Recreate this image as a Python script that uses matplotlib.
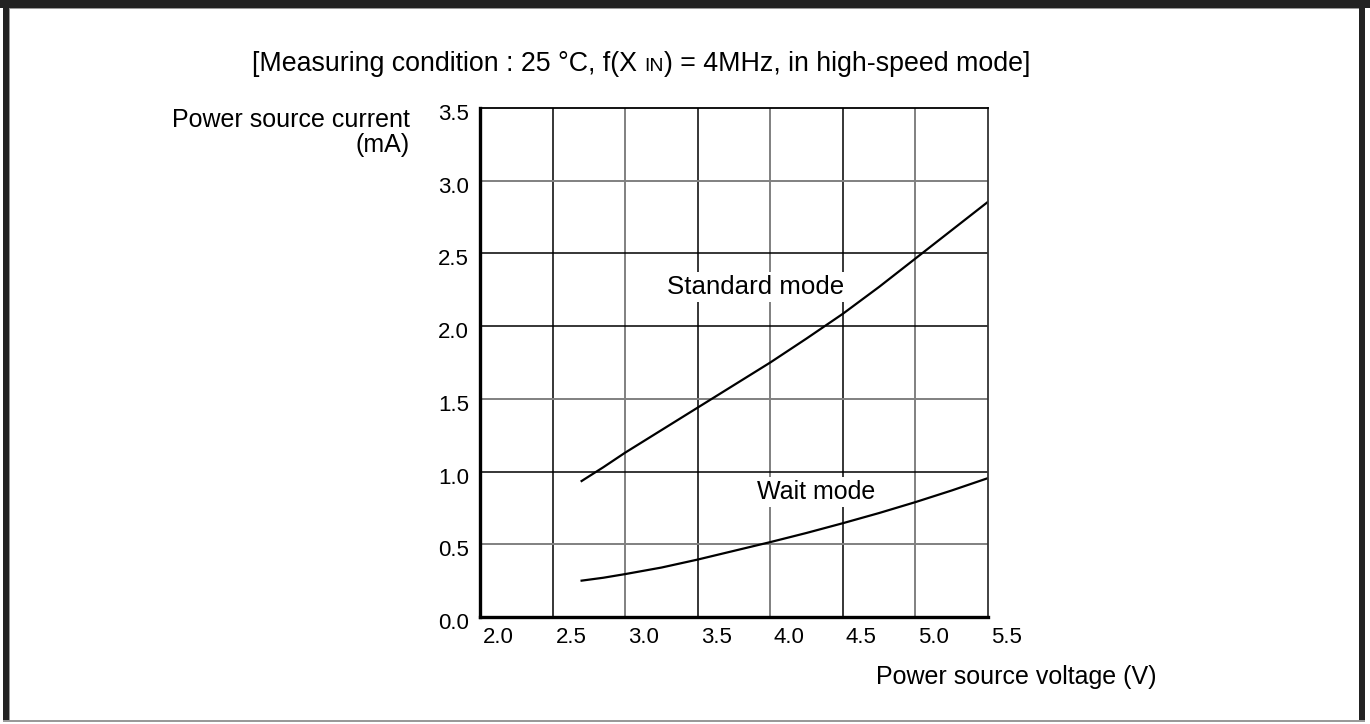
import matplotlib
matplotlib.use("Agg")
import matplotlib.pyplot as plt
from matplotlib.patches import Rectangle
import matplotlib.transforms as mtransforms

plt.rcParams['font.family'] = ['Liberation Sans', 'DejaVu Sans']

# ---- data ----
std_v = [2.7, 2.85, 3.0, 3.25, 3.5, 3.75, 4.0, 4.25, 4.5, 4.75, 5.0, 5.25, 5.5]
std_i = [0.935, 1.03, 1.13, 1.285, 1.44, 1.595, 1.75, 1.915, 2.085, 2.27, 2.465, 2.66, 2.855]
wait_v = [2.7, 2.85, 3.0, 3.25, 3.5, 3.75, 4.0, 4.25, 4.5, 4.75, 5.0, 5.25, 5.5]
wait_i = [0.25, 0.27, 0.295, 0.34, 0.395, 0.455, 0.515, 0.578, 0.645, 0.715, 0.79, 0.87, 0.955]
x_ticks = [2.0, 2.5, 3.0, 3.5, 4.0, 4.5, 5.0, 5.5]
y_ticks = [0.0, 0.5, 1.0, 1.5, 2.0, 2.5, 3.0, 3.5]
x_tick_labels = ["2.0", "2.5", "3.0", "3.5", "4.0", "4.5", "5.0", "5.5"]
y_tick_labels = ["0.0", "0.5", "1.0", "1.5", "2.0", "2.5", "3.0", "3.5"]
x_grid_black = [2.5, 3.5, 4.5]
x_grid_gray = [3.0, 4.0, 5.0]
y_grid_black = [1.0, 2.0, 2.5]
y_grid_gray = [0.5, 1.5, 3.0]

W, H = 1370, 724
fig = plt.figure(figsize=(W / 100, H / 100), dpi=100)

# frame border
def px_rect(x0, y0, x1, y1, color):
    fig.patches.append(Rectangle((x0 / W, 1 - y1 / H), (x1 - x0) / W, (y1 - y0) / H,
                                 transform=fig.transFigure, facecolor=color,
                                 edgecolor='none', zorder=0))
px_rect(0, 0, W, 8, '#222222')
px_rect(8, 8, W - 8, 9, '#999999')
px_rect(3, 0, 9, H - 3, '#222222')
px_rect(9, 8, 10, H - 3, '#999999')
px_rect(1359, 0, 1365, H - 3, '#222222')
px_rect(3, H - 4, 1365, H - 2, '#999999')

ax = fig.add_axes([480 / W, 1 - 617 / H, (988 - 480) / W, (617 - 108) / H])
ax.set_xlim(2.0, 5.5)
ax.set_ylim(0.0, 3.5)

gray = '#808080'
for xv in x_grid_black:
    ax.axvline(xv, color='black', lw=1.1, zorder=1)
for xv in x_grid_gray:
    ax.axvline(xv, color=gray, lw=1.4, zorder=1)
for yv in y_grid_black:
    ax.axhline(yv, color='black', lw=1.1, zorder=1)
for yv in y_grid_gray:
    ax.axhline(yv, color=gray, lw=1.4, zorder=1)

ax.plot(std_v, std_i, color='black', lw=1.6, zorder=3, solid_joinstyle='round')
ax.plot(wait_v, wait_i, color='black', lw=1.6, zorder=3, solid_joinstyle='round')

box = dict(facecolor='white', edgecolor='none', pad=2)
ax.text(3.29, 2.27, "Standard mode", fontsize=18.6, ha='left', va='center',
        bbox=box, zorder=2)
ax.text(3.91, 0.86, "Wait mode", fontsize=18, ha='left', va='center',
        bbox=box, zorder=2)

for s in ['left', 'bottom']:
    ax.spines[s].set_linewidth(2.4)
    ax.spines[s].set_color('black')
ax.spines['top'].set_linewidth(1.3)
ax.spines['top'].set_color('black')
ax.spines['right'].set_linewidth(1.3)
ax.spines['right'].set_color('#333333')
for s in ax.spines.values():
    s.set_zorder(4)

ax.set_xticks(x_ticks)
ax.set_xticklabels(x_tick_labels)
ax.set_yticks(y_ticks)
ax.set_yticklabels(y_tick_labels)
ax.tick_params(axis='both', length=0, labelsize=16)
ax.tick_params(axis='x', pad=7)
ax.tick_params(axis='y', pad=8)
offx = mtransforms.ScaledTranslation(3 / 100, 0, fig.dpi_scale_trans)
for lab in ax.get_xticklabels():
    lab.set_horizontalalignment('left')
    lab.set_transform(lab.get_transform() + offx)
offy = mtransforms.ScaledTranslation(0, -4 / 100, fig.dpi_scale_trans)
for lab in ax.get_yticklabels():
    lab.set_transform(lab.get_transform() + offy)

# axis labels
fig.text(410 / W, 1 - 127 / H, "Power source current", fontsize=18,
         ha='right', va='baseline')
fig.text(410 / W, 1 - 152 / H, "(mA)", fontsize=18, ha='right', va='baseline')
fig.text(1157 / W, 1 - 684 / H, "Power source voltage (V)", fontsize=18,
         ha='right', va='baseline')

# title with small "IN"
renderer = fig.canvas.get_renderer()
parts = [("[Measuring condition : 25 °C, f(X ", 19.3), ("IN", 14),
         (") = 4MHz, in high-speed mode]", 19.3)]
tx = 252
ty = 1 - 71 / H
for s, fs in parts:
    t = fig.text(tx / W, ty, s, fontsize=fs, ha='left', va='baseline')
    bb = t.get_window_extent(renderer=renderer)
    tx = bb.x1

fig.savefig("out.png", dpi=100)
